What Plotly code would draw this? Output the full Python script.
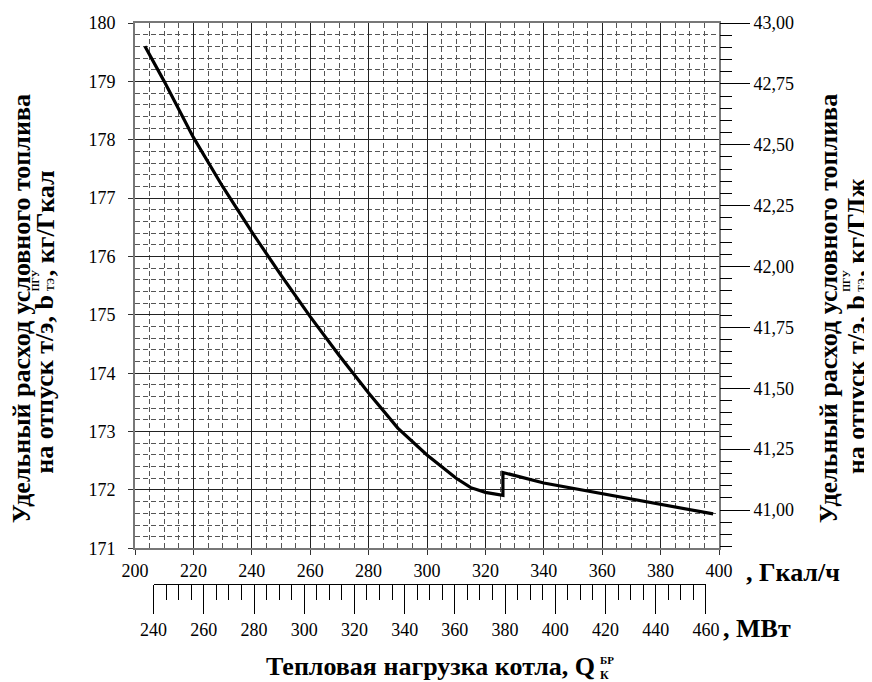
import plotly.graph_objects as go

# ---------------- data ----------------
K_GJ = 4.1868          # 1 Gcal = 4.1868 GJ
MW_PER_GCAL = 1.163    # 1 Gcal/h = 1.163 MW

q_gcal = [203.4, 210, 220, 230, 240, 250, 260, 270, 280, 290, 300, 310, 315, 320, 326, 326,
          340, 360, 380, 398]
b_kg_gcal = [179.6, 179.0, 178.04, 177.2, 176.42, 175.68, 174.97, 174.3, 173.66, 173.06, 172.6,
             172.2, 172.04, 171.96, 171.91, 172.30, 172.12, 171.94, 171.75, 171.59]

x_ticks = [200, 220, 240, 260, 280, 300, 320, 340, 360, 380, 400]
y_ticks = [171, 172, 173, 174, 175, 176, 177, 178, 179, 180]
right_vals = [41.00, 41.25, 41.50, 41.75, 42.00, 42.25, 42.50, 42.75, 43.00]
right_text = ["41,00", "41,25", "41,50", "41,75", "42,00", "42,25", "42,50", "42,75", "43,00"]
mw_ticks = [240, 260, 280, 300, 320, 340, 360, 380, 400, 420, 440, 460]

# ---------------- geometry (page pixels; page has an 8px body margin) ----------------
OFF = 8
W, H = 872, 682
L, R = 135 - OFF, 719.5 - OFF
T, B = 22.5 - OFF, 548.3 - OFF
PB = 620 - OFF  # paper bottom in figure px

def px_x(p):
    return (p - OFF - L) / (R - L)

def px_y(p):
    return (PB - (p - OFF)) / (PB - T)

SERIF = "Liberation Serif, Times New Roman, serif"
tickfont = dict(family=SERIF, size=18, color="black")
boldfont = dict(family=SERIF, size=26, color="black")
smallbold = dict(family=SERIF, size=10, color="black")

fig = go.Figure()

fig.add_trace(go.Scatter(x=q_gcal, y=b_kg_gcal, mode="lines",
                         line=dict(color="black", width=3.2),
                         showlegend=False, hoverinfo="skip"))
# same curve in kg/GJ on the right axes (invisible, keeps the axes alive)
b_kg_gj = [v / K_GJ for v in b_kg_gcal]
for ya in ("y2", "y4"):
    fig.add_trace(go.Scatter(x=q_gcal, y=b_kg_gj, yaxis=ya, mode="lines",
                             line=dict(width=0), opacity=0,
                             showlegend=False, hoverinfo="skip"))
# same loads in MW on the lower axis (invisible)
fig.add_trace(go.Scatter(x=[q * MW_PER_GCAL for q in q_gcal], y=b_kg_gcal,
                         xaxis="x2", yaxis="y3", mode="lines", line=dict(width=0),
                         opacity=0, showlegend=False, hoverinfo="skip"))

d0 = (mw_ticks[0] / MW_PER_GCAL - 200) / 200
d1 = (mw_ticks[-1] / MW_PER_GCAL - 200) / 200
ydom = [px_y(548.3), 1]
r2 = [171 / K_GJ, 43.0]

fig.update_layout(
    width=W, height=H,
    margin=dict(l=L, r=W - R, t=T, b=H - PB, pad=0, autoexpand=False),
    paper_bgcolor="white", plot_bgcolor="rgba(0,0,0,0)",
    xaxis=dict(range=[200, 400], tickvals=x_ticks, ticks="outside", ticklen=5,
               tickcolor="#333", tickfont=tickfont,
               showgrid=True, gridcolor="#222", gridwidth=1,
               minor=dict(dtick=5, tick0=200, showgrid=True, gridcolor="#555",
                          griddash="5px,3px", gridwidth=1, ticks=""),
               showline=True, linecolor="#777", linewidth=1.8, mirror=True,
               zeroline=False),
    yaxis=dict(range=[171, 180], domain=ydom, tickvals=y_ticks, ticks="outside",
               ticklen=5, tickcolor="#333", tickfont=tickfont, ticklabelstandoff=9,
               showgrid=True, gridcolor="#222", gridwidth=1,
               minor=dict(dtick=0.2, tick0=171, showgrid=True, gridcolor="#555",
                          griddash="5px,3px", gridwidth=1, ticks=""),
               showline=True, linecolor="#777", linewidth=1.8, mirror=True,
               zeroline=False),
    yaxis2=dict(overlaying="y", side="right", range=r2,
                tickmode="array", tickvals=right_vals, ticktext=right_text,
                ticks="outside", ticklen=30, tickcolor="black", tickwidth=1,
                tickfont=tickfont, showgrid=False, showline=False, zeroline=False),
    yaxis4=dict(overlaying="y", side="right", range=r2, tickmode="linear",
                tick0=41.0, dtick=0.05, ticks="outside", ticklen=12,
                tickcolor="black", tickwidth=1, showticklabels=False,
                showgrid=False, showline=False, zeroline=False),
    xaxis2=dict(anchor="free", position=px_y(584.3), domain=[d0, d1],
                range=[mw_ticks[0], mw_ticks[-1]], tickvals=mw_ticks, side="bottom",
                ticks="outside", ticklen=29, tickcolor="black", tickwidth=1,
                tickfont=tickfont,
                minor=dict(tickmode="linear", tick0=240, dtick=5, ticks="outside",
                           ticklen=15, tickcolor="black", showgrid=False),
                showgrid=False, showline=True, linecolor="black", linewidth=1,
                zeroline=False),
    yaxis3=dict(anchor="x2", domain=ydom, range=[171, 180], visible=False),
)

ann = []

def add(text, xp, yp, xa="center", ya="middle", font=boldfont, angle=0):
    ann.append(dict(text="<b>" + text + "</b>", x=px_x(xp), y=px_y(yp),
                    xref="paper", yref="paper", xanchor=xa, yanchor=ya,
                    showarrow=False, font=font, textangle=angle))

add(", Гкал/ч", 745, 572, xa="left")
add(", МВт", 722, 629, xa="left")
add("Тепловая нагрузка котла, Q", 597, 667, xa="right")
add("БР", 598, 660, xa="left", font=dict(family=SERIF, size=11, color="black"))
add("К", 598, 675, xa="left", font=dict(family=SERIF, size=12, color="black"))

# left axis title
line1 = "Удельный расход условного топлива"
add(line1, 21, 309, angle=-90)
add("на отпуск т/э, b", 45, 293, ya="top", angle=-90)
add("ПГУ", 35, 293, ya="bottom", font=smallbold, angle=-90)
add("ТЭ", 50, 293, ya="bottom", font=smallbold, angle=-90)
add(", кг/Гкал", 45, 278, ya="bottom", angle=-90)

# right axis title
add(line1, 829, 308.5, angle=-90)
add("на отпуск т/э, b", 857, 293, ya="top", angle=-90)
add("ПГУ", 847, 293, ya="bottom", font=smallbold, angle=-90)
add("ТЭ", 862, 293, ya="bottom", font=smallbold, angle=-90)
add(", кг/ГДж", 857, 278, ya="bottom", angle=-90)

fig.update_layout(annotations=ann)

fig.write_html("out.html")
